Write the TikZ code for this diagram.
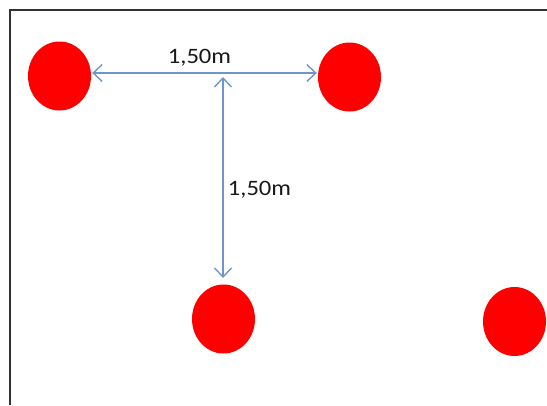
\documentclass[tikz,border=0pt]{standalone}
\usepackage{fontspec}
\setmainfont{Carlito}
\usetikzlibrary{arrows.meta,shapes.geometric}
\definecolor{dotred}{RGB}{255,0,0}
\definecolor{dimblue}{RGB}{110,150,205}
\definecolor{frame}{RGB}{50,50,50}
\begin{document}
\begin{tikzpicture}[x=1pt,y=-1pt,
  dot/.style={ellipse,fill=dotred,draw=none,minimum width=63pt,minimum height=69pt,inner sep=0pt},
  dim/.style={draw=dimblue,line width=1.4pt,{Straight Barb[length=9pt,width=17pt]}-{Straight Barb[length=9pt,width=17pt]}},
  dimlabel/.style={font=\fontsize{22}{24}\selectfont,text=black!90,inner sep=0pt}]
\useasboundingbox (0,0) rectangle (547,405);
\draw[frame,line width=2.6pt] (10,405) -- (10,10) -- (547,10);
\node[dot] (c1) at (59.5,76) {};
\node[dot] (c2) at (349.5,77) {};
\node[dot] (c3) at (223.5,319) {};
\node[dot] (c4) at (514.5,321.5) {};
\coordinate (hmid) at (223,77);
\draw[dim,shorten <=1pt,shorten >=1pt] (c1.east |- 0,73) -- (c2.west |- 0,73);
\draw[dim] (hmid) -- (223,278);
\node[dimlabel] (l1) at (199.5,57.5) {\scalebox{1.12}[1]{1,50m}};
\node[dimlabel] (l2) at (259.5,190) {\scalebox{1.12}[1]{1,50m}};
\end{tikzpicture}
\end{document}
